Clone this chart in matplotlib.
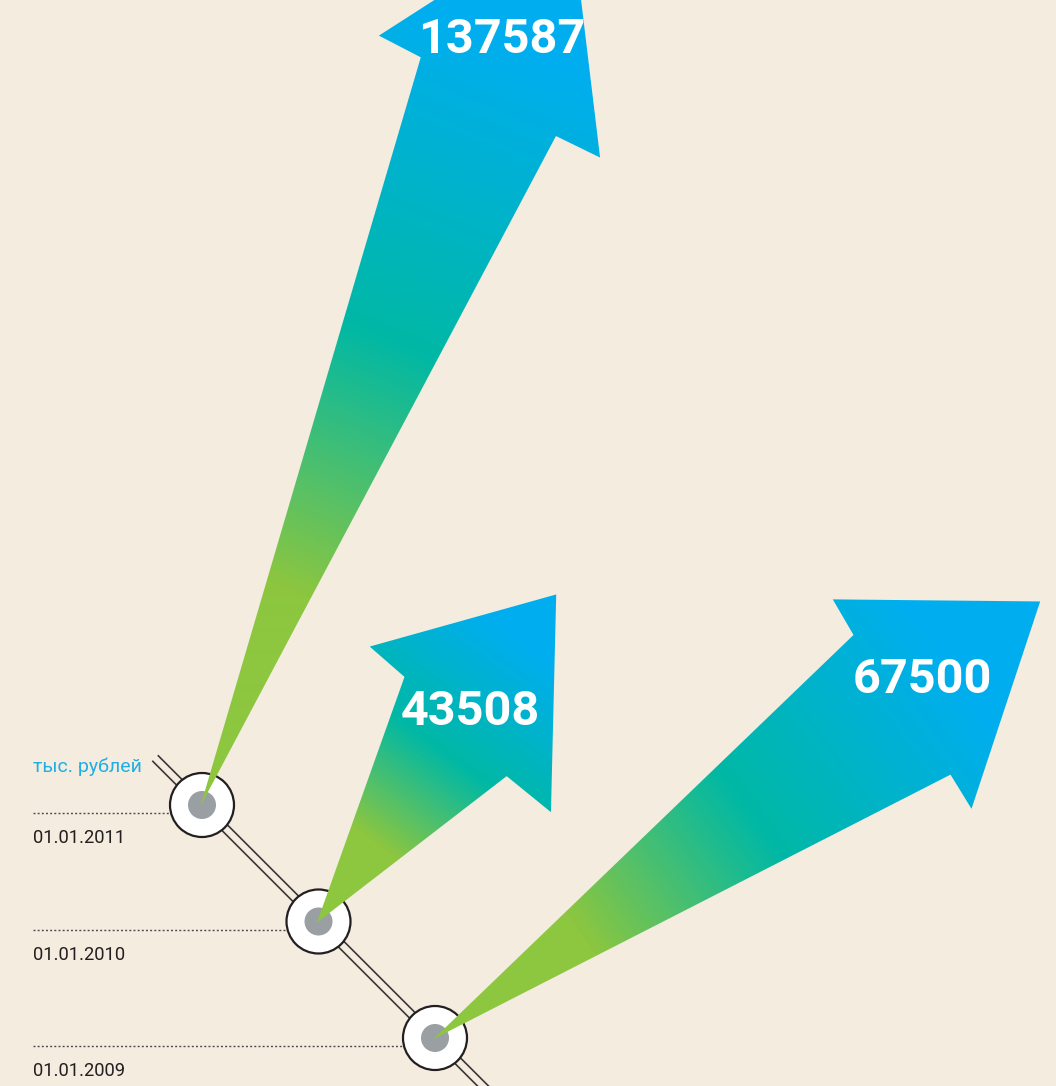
import numpy as np
import matplotlib
matplotlib.use('Agg')
import matplotlib.pyplot as plt
from matplotlib.patches import Polygon, Circle
from matplotlib.colors import LinearSegmentedColormap

# ---------------- data ----------------
dates = ['01.01.2009', '01.01.2010', '01.01.2011']
values = [67500, 43508, 137587]
unit_label = 'тыс. рублей'

# ---------------- layout / style (pixel space) ----------------
W, H = 1056, 1086
BG = '#F3ECDF'
first_center = (435.0, 1038.0)     # position of the first date on the rail
step = 116.5                        # rail spacing per date (45 deg, up-left)
arrow_angle = [35.8, 53.9, 67.5]    # degrees above horizontal
arrow_len = [748, 406, 967]
# head geometry in the arrow frame: (along, across) for left/right sides
head_base_l = [577, 250, 776]
head_base_r = [574, 230, 755]
shaft_half_l = [82, 74, 83]
shaft_half_r = [88, 67, 72]
head_half_l = [123, 120, 130]
head_half_r = [128, 124, 121]
label_off = [31, 20, 57]
label_across = [-5, 0, -15]

cmap = LinearSegmentedColormap.from_list(
    'arrow', [(0.0, '#8DC63F'), (0.24, '#8DC63F'), (0.52, '#00B8A5'),
              (0.85, '#00AEEF'), (1.0, '#00AEEF')])

fig = plt.figure(figsize=(W / 100, H / 100), dpi=100, facecolor=BG)
ax = fig.add_axes([0, 0, 1, 1])
ax.set_xlim(0, W)
ax.set_ylim(H, 0)
ax.set_facecolor(BG)
ax.axis('off')

# rail centres
centers = [(first_center[0] - i * step, first_center[1] - i * step)
           for i in range(len(dates))]

# ---- rail (two parallel lines at 45 deg) ----
c0 = np.array(first_center)
d = np.array([1.0, 1.0]) / np.sqrt(2)
perp = np.array([1.0, -1.0]) / np.sqrt(2)
top_end = c0 - d * (np.sqrt(2) * (first_center[0] - 155))
bot_end = c0 + d * 120
for s in (-3.9, 3.9):
    p0 = top_end + perp * s
    p1 = bot_end + perp * s
    ax.plot([p0[0], p1[0]], [p0[1], p1[1]], color='#3A3838', lw=1.2,
            zorder=1, solid_capstyle='butt')

# ---- dotted guide lines, date labels, circles ----
for (cx, cy), lab in zip(centers, dates):
    ax.plot([33, cx - 30], [cy + 8, cy + 8], color='#4A4646', lw=1.0,
            ls=(0, (1.4, 1.6)), zorder=1)
    ax.text(33, cy + 38, lab, fontsize=13.2, family=['Roboto', 'DejaVu Sans'],
            color='#231F20', ha='left', va='baseline', zorder=3)
    ax.add_patch(Circle((cx, cy), 32, facecolor='white', edgecolor='#231F20',
                        lw=1.6, zorder=2))
    ax.add_patch(Circle((cx, cy), 14, facecolor='#9A9FA3', edgecolor='none',
                        zorder=2.5))

ax.text(33, 767, unit_label, fontsize=14, family=['Roboto', 'DejaVu Sans'],
        color='#1FAEE6', ha='left', va='center', zorder=3)

# ---- arrows with gradient fill ----
for i, ((cx, cy), val) in enumerate(zip(centers, values)):
    a = np.deg2rad(arrow_angle[i])
    u = np.array([np.cos(a), -np.sin(a)])
    v = np.array([np.sin(a), np.cos(a)])
    A = np.array([cx - 1.5, cy + 1.0])
    L = arrow_len[i]
    local = [(0, 0),
             (head_base_l[i], -shaft_half_l[i]),
             (head_base_l[i] + 4, -head_half_l[i]),
             (L, 0),
             (head_base_r[i] - 3, head_half_r[i]),
             (head_base_r[i], shaft_half_r[i])]
    pts = np.array([A + p * u + q * v for p, q in local])
    poly = Polygon(pts, closed=True, facecolor='none', edgecolor='none',
                   zorder=4)
    ax.add_patch(poly)

    x0, x1 = pts[:, 0].min() - 2, pts[:, 0].max() + 2
    y0, y1 = pts[:, 1].min() - 2, pts[:, 1].max() + 2
    xs = np.arange(x0, x1, 1.0)
    ys = np.arange(y0, y1, 1.0)
    X, Y = np.meshgrid(xs, ys)
    t = ((X - A[0]) * u[0] + (Y - A[1]) * u[1]) / L
    img = cmap(np.clip(t, 0, 1))
    im = ax.imshow(img, extent=(x0, x1, y1, y0), origin='upper',
                   interpolation='bilinear', zorder=4, aspect='auto')
    im.set_clip_path(poly)

    lp = A + ((head_base_l[i] + head_base_r[i]) / 2 + label_off[i]) * u \
        + label_across[i] * v
    ax.text(lp[0], lp[1], str(val), fontsize=35, fontweight='bold',
            family=['Roboto', 'DejaVu Sans'], color='white',
            ha='center', va='center', zorder=5)

ax.set_xlim(0, W)
ax.set_ylim(H, 0)
fig.savefig('out.png', dpi=100, facecolor=BG)
